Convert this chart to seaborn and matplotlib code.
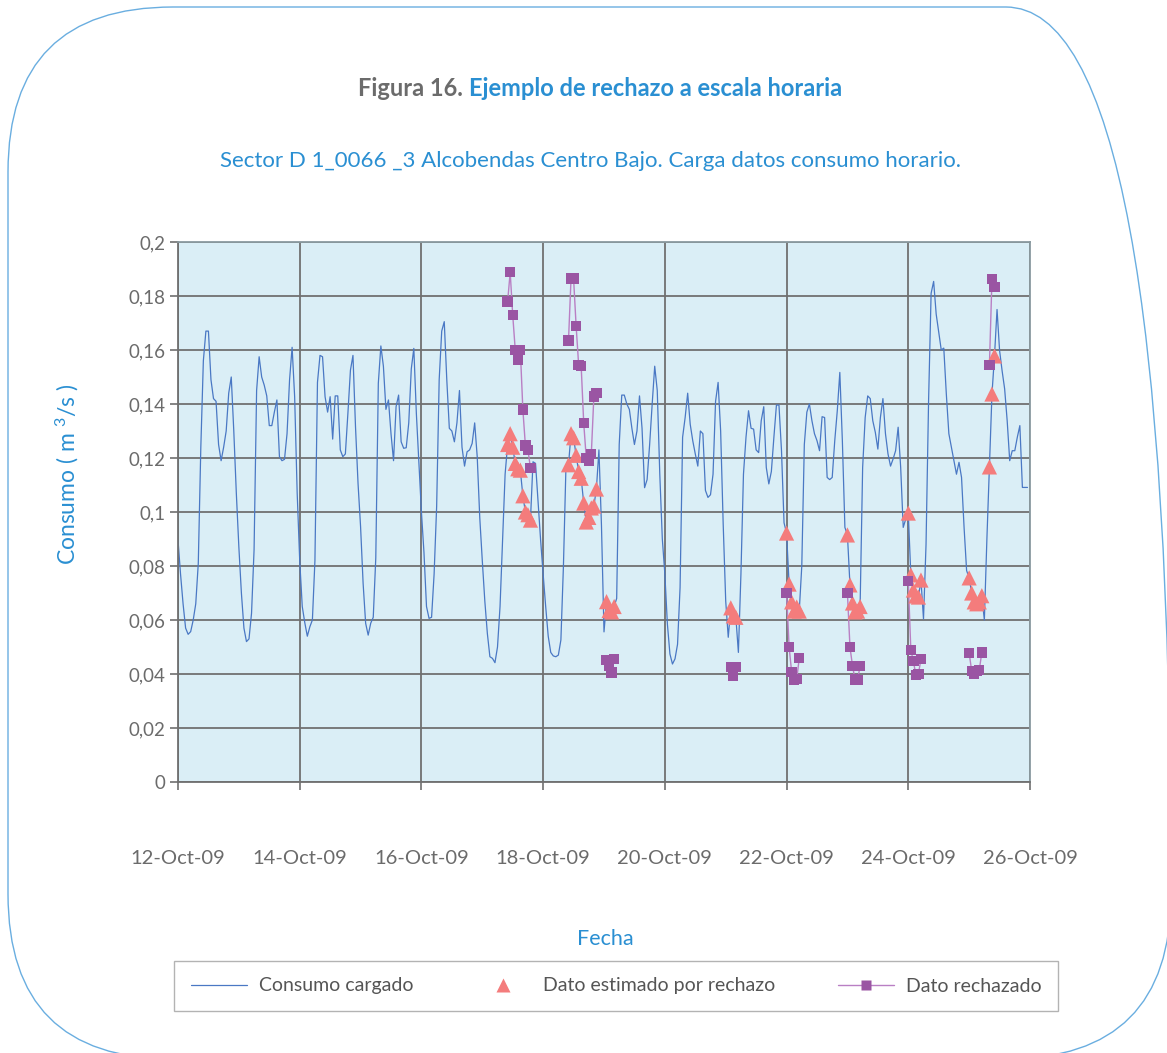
import numpy as np
import pandas as pd
import matplotlib
matplotlib.use("Agg")
import matplotlib.pyplot as plt
import matplotlib.dates as mdates
import matplotlib.transforms as mtransforms
from matplotlib.patches import FancyBboxPatch
from matplotlib.lines import Line2D
from matplotlib.ticker import FuncFormatter
import seaborn as sns

# ---------------------------------------------------------------------------
# Consumo horario cargado (m3/s), una lista de 24 horas por día.
# None = hora rechazada; se rellena con el dato estimado.
# ---------------------------------------------------------------------------
dia_12 = [0.0896, 0.077, 0.066, 0.057, 0.0547, 0.0557, 0.060, 0.066, 0.081, 0.124, 0.156, 0.167,
          0.167, 0.149, 0.142, 0.141, 0.125, 0.119, 0.124, 0.130, 0.144, 0.150, 0.130, 0.107]
dia_13 = [0.087, 0.070, 0.057, 0.052, 0.053, 0.0625, 0.086, 0.145, 0.1575, 0.150, 0.147, 0.143,
          0.132, 0.132, 0.137, 0.1415, 0.1205, 0.119, 0.1195, 0.129, 0.149, 0.161, 0.1427, 0.107]
dia_14 = [0.082, 0.065, 0.059, 0.054, 0.0575, 0.060, 0.082, 0.148, 0.158, 0.1575, 0.1427, 0.137,
          0.1427, 0.127, 0.143, 0.143, 0.123, 0.1205, 0.1215, 0.1365, 0.1525, 0.158, 0.1316, 0.1106]
dia_15 = [0.0946, 0.0736, 0.0588, 0.0544, 0.0588, 0.061, 0.083, 0.1477, 0.1615, 0.154, 0.138, 0.1415,
          0.129, 0.119, 0.139, 0.1433, 0.126, 0.1236, 0.1238, 0.133, 0.153, 0.1606, 0.1365, 0.118]
dia_16 = [0.100, 0.085, 0.065, 0.0606, 0.061, 0.077, 0.102, 0.149, 0.167, 0.1705, 0.149, 0.131,
          0.130, 0.126, 0.133, 0.145, 0.124, 0.117, 0.1223, 0.123, 0.1254, 0.133, 0.1205, 0.098]
dia_17 = [0.082, 0.067, 0.055, 0.0464, 0.0458, 0.0442, 0.050, 0.065, 0.0896, 0.114, None, None,
          None, None, None, None, None, None, None, None, 0.1186, 0.118, 0.104, 0.0896]
dia_18 = [0.077, 0.065, 0.054, 0.048, 0.0467, 0.0464, 0.047, 0.0526, 0.080, 0.117, None, None,
          None, None, None, None, None, None, None, None, None, None, 0.123, 0.095]
dia_19 = [0.0556, None, None, None, None, 0.068, 0.125, 0.1433, 0.1433, 0.140, 0.138, 0.131,
          0.125, 0.130, 0.143, 0.131, 0.109, 0.112, 0.125, 0.140, 0.154, 0.145, 0.114, 0.090]
dia_20 = [0.077, 0.0585, 0.0474, 0.0437, 0.0456, 0.051, 0.072, 0.1277, 0.135, 0.144, 0.1325, 0.1264,
          0.1215, 0.117, 0.130, 0.129, 0.108, 0.1054, 0.1064, 0.114, 0.141, 0.148, 0.130, 0.0956]
dia_21 = [0.067, 0.0536, None, None, None, 0.048, 0.077, 0.114, 0.1277, 0.1375, 0.131, 0.1307,
          0.123, 0.122, 0.1338, 0.139, 0.1165, 0.1104, 0.115, 0.1277, 0.1396, 0.1396, 0.1227, 0.096]
dia_22 = [None, None, None, None, None, None, 0.080, 0.125, 0.137, 0.140, 0.1338, 0.129,
          0.1264, 0.1227, 0.1353, 0.135, 0.1128, 0.112, 0.1128, 0.1264, 0.1375, 0.1517, 0.1264, 0.0943]
dia_23 = [None, None, None, None, None, None, 0.1165, 0.135, 0.143, 0.142, 0.1338, 0.1295,
          0.1233, 0.135, 0.142, 0.129, 0.1215, 0.117, 0.1196, 0.1227, 0.1314, 0.1165, 0.0943, 0.0974]
dia_24 = [None, None, None, None, None, None, 0.0604, 0.088, 0.141, 0.181, 0.1854, 0.1733,
          0.1665, 0.160, 0.1607, 0.1437, 0.129, 0.124, 0.119, 0.114, 0.1184, 0.1128, 0.0943, 0.0783]
dia_25 = [None, None, None, None, None, None, 0.060, 0.090, None, None, None, 0.175,
          0.1598, 0.1523, 0.1456, 0.1338, 0.119, 0.1227, 0.1227, 0.1277, 0.132, 0.1091, 0.1091, 0.1091]

# Episodios de rechazo: hora de inicio (desde 12-Oct-09 00:00), dato rechazado y dato estimado
rechazo_inicio = [130, 154, 169, 218, 240, 264, 288, 312, 320]
dato_rechazado = [
    [0.178, 0.1888, 0.173, 0.160, 0.1563, 0.160, 0.138, 0.1246, 0.123, 0.1163],
    [0.1635, 0.1865, 0.1865, 0.169, 0.1545, 0.154, 0.133, 0.120, 0.119, 0.1215, 0.1428, 0.1442],
    [0.0452, 0.0432, 0.0405, 0.0455],
    [0.0427, 0.0395, 0.0427],
    [0.070, 0.050, 0.0407, 0.038, 0.0381, 0.0459],
    [0.070, 0.050, 0.043, 0.038, 0.0378, 0.043],
    [0.0744, 0.0489, 0.0448, 0.0396, 0.040, 0.0456],
    [0.0478, 0.0411, 0.040, 0.041, 0.0415, 0.048],
    [0.1544, 0.1863, 0.1833],
]
dato_estimado = [
    [0.125, 0.129, 0.124, 0.118, 0.116, 0.1155, 0.106, 0.100, 0.099, 0.097],
    [0.1175, 0.129, 0.1275, 0.121, 0.115, 0.1125, 0.1033, 0.0963, 0.098, 0.1015, 0.1022, 0.1085],
    [0.0668, 0.0635, 0.0630, 0.0650],
    [0.0645, 0.0615, 0.061],
    [0.0922, 0.0733, 0.0667, 0.0633, 0.0648, 0.0633],
    [0.0915, 0.073, 0.0663, 0.063, 0.0633, 0.065],
    [0.0996, 0.0767, 0.0711, 0.0689, 0.0685, 0.0748],
    [0.0756, 0.070, 0.0667, 0.066, 0.0667, 0.069],
    [0.1167, 0.1437, 0.1578],
]

y_ticks = [0, 0.02, 0.04, 0.06, 0.08, 0.10, 0.12, 0.14, 0.16, 0.18, 0.20]
x_ticks = ["2009-10-12", "2009-10-14", "2009-10-16", "2009-10-18",
           "2009-10-20", "2009-10-22", "2009-10-24", "2009-10-26"]

# ---------------------------------------------------------------------------
# Tablas
# ---------------------------------------------------------------------------
inicio = pd.Timestamp("2009-10-12 00:00")
dias = [dia_12, dia_13, dia_14, dia_15, dia_16, dia_17, dia_18,
        dia_19, dia_20, dia_21, dia_22, dia_23, dia_24, dia_25]
consumo = np.array([np.nan if v is None else v for d in dias for v in d], dtype=float)
for h0, est in zip(rechazo_inicio, dato_estimado):
    consumo[h0:h0 + len(est)] = est

df_consumo = pd.DataFrame({
    "fecha": inicio + pd.to_timedelta(np.arange(len(consumo)), unit="h"),
    "consumo": consumo,
})

filas = []
for k, (h0, rech, est) in enumerate(zip(rechazo_inicio, dato_rechazado, dato_estimado)):
    for i, (r, e) in enumerate(zip(rech, est)):
        filas.append({"evento": k, "fecha": inicio + pd.Timedelta(hours=h0 + i),
                      "rechazado": r, "estimado": e})
df_rech = pd.DataFrame(filas)

# ---------------------------------------------------------------------------
# Estilo
# ---------------------------------------------------------------------------
sns.set_theme(style="white")
plt.rcParams["font.family"] = ["Lato", "DejaVu Sans"]
plt.rcParams["mathtext.default"] = "regular"

AZUL_TXT = "#2a8fd2"
GRIS_TXT = "#6b6b6b"
GRID = "#707070"
C_LINEA = "#4a78c4"
C_TRI = "#f47c7c"
C_SQ = "#9a55a3"
C_SQ_LINEA = "#b97fc4"

W, H = 1167, 1053
fig = plt.figure(figsize=(W / 100, H / 100), dpi=100)
fig.patch.set_facecolor("white")

# Marco redondeado de la figura (los bordes derecho e inferior quedan fuera del lienzo)
marco = FancyBboxPatch((8, -6), 1163, 1052,
                       boxstyle="round,pad=0,rounding_size=165",
                       transform=mtransforms.IdentityTransform(),
                       facecolor="none", edgecolor="#6aaee0", linewidth=1.0)
fig.patches.append(marco)

ax = fig.add_axes([178 / W, 1 - 782 / H, 852 / W, 540 / H])
ax.set_facecolor("#daeef6")

sns.lineplot(data=df_consumo, x="fecha", y="consumo", color=C_LINEA,
             linewidth=0.9, ax=ax, zorder=2)
sns.lineplot(data=df_rech, x="fecha", y="rechazado", units="evento", estimator=None,
             color=C_SQ_LINEA, linewidth=1.0, ax=ax, zorder=3)
sns.scatterplot(data=df_rech, x="fecha", y="estimado", marker="^", color=C_TRI,
                s=120, edgecolor="none", ax=ax, zorder=4)
sns.scatterplot(data=df_rech, x="fecha", y="rechazado", marker="s", color=C_SQ,
                s=55, edgecolor="none", ax=ax, zorder=5)

ax.set_xlim(pd.Timestamp(x_ticks[0]), pd.Timestamp(x_ticks[-1]))
ax.set_ylim(0, 0.2)
ax.set_xticks(pd.to_datetime(x_ticks))
ax.set_yticks(y_ticks)
ax.xaxis.set_major_formatter(mdates.DateFormatter("%d-%b-%y"))
ax.yaxis.set_major_formatter(FuncFormatter(lambda v, p: f"{v:g}".replace(".", ",")))

ax.grid(True, color=GRID, linewidth=1.3)
ax.set_axisbelow(True)
for s in ax.spines.values():
    s.set_color(GRID)
    s.set_linewidth(1.3)
ax.spines["top"].set_color("#8a9aa0")
ax.spines["right"].set_color("#8a9aa0")

ax.tick_params(axis="both", which="major", direction="out", length=6, width=1.2,
               color=GRID, labelcolor=GRIS_TXT, labelsize=13.5, left=True, bottom=True)
ax.tick_params(axis="x", pad=43, labelsize=14.5)
ax.tick_params(axis="y", pad=3)

ax.set_xlabel("Fecha", color=AZUL_TXT, fontsize=15.5)
ax.set_ylabel("Consumo ( m $^{3}$/s )", color=AZUL_TXT, fontsize=16.5)
ax.xaxis.set_label_coords(0.502, -0.272)
ax.yaxis.set_label_coords(-0.114, 0.57)

# Títulos
fig.text(463 / W, 1 - 88 / H, "Figura 16.", ha="right", va="center",
         color=GRIS_TXT, fontsize=17, fontweight="bold")
fig.text(469 / W, 1 - 88 / H, "Ejemplo de rechazo a escala horaria", ha="left", va="center",
         color=AZUL_TXT, fontsize=17, fontweight="bold")
fig.text(590 / W, 1 - 161 / H,
         "Sector D 1_0066 _3 Alcobendas Centro Bajo. Carga datos consumo horario.",
         ha="center", va="center", color=AZUL_TXT, fontsize=16)

# Leyenda
handles = [
    Line2D([], [], color=C_LINEA, linewidth=0.9),
    Line2D([], [], color=C_TRI, marker="^", linestyle="none", markersize=10,
           markeredgecolor="none"),
    Line2D([], [], color=C_SQ_LINEA, linewidth=1.0, marker="s", markersize=7,
           markerfacecolor=C_SQ, markeredgecolor="none"),
]
labels = ["Consumo cargado", "Dato estimado por rechazo", "Dato rechazado"]
leg = fig.legend(handles, labels, loc="center", bbox_to_anchor=(616 / W, 1 - 986 / H),
                 ncol=3, frameon=True, fancybox=False, fontsize=14,
                 handlelength=2.9, handletextpad=0.6, columnspacing=3.2,
                 borderpad=0.85, borderaxespad=0)
leg.get_frame().set_edgecolor("#a0a0a0")
leg.get_frame().set_linewidth(1.0)
for t in leg.get_texts():
    t.set_color("#555555")

fig.savefig("out.png", dpi=100, facecolor="white")
